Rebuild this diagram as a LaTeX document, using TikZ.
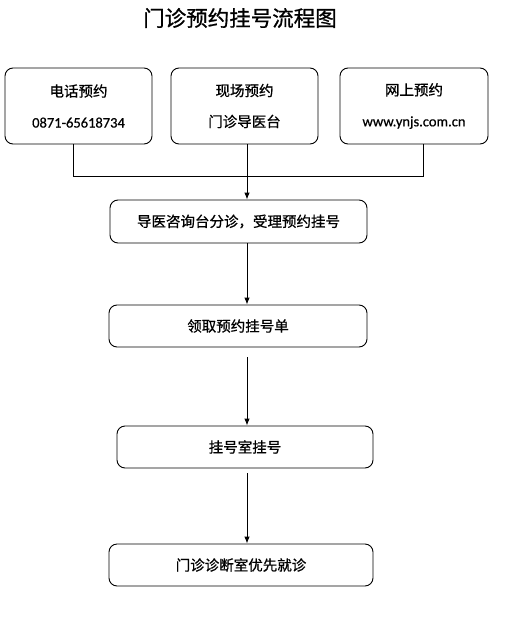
\documentclass[tikz,border=0pt]{standalone}
\usepackage{fontspec}
\setmainfont{Carlito}[RawFeature={embolden=0.6}]
\newfontfamily\cjk{Noto Sans CJK SC}[RawFeature={embolden=0.8}]
\usetikzlibrary{arrows.meta,positioning}

\begin{document}
\begin{tikzpicture}[x=1pt,y=-1pt,
    box/.style={rounded corners=8pt,draw=black,line width=0.9pt,fill=white,align=center,inner sep=0pt},
    src/.style={box,minimum width=147pt,minimum height=76pt,font=\fontsize{14.5}{31}\selectfont},
    stage/.style={box,minimum height=42pt,font=\cjk\fontsize{14.5}{17}\selectfont},
    link/.style={line width=0.9pt,black},
    arr/.style={link,-{Latex[length=7pt,width=5.5pt]}}
  ]
    \fill[white] (0,0) rectangle (504,623);
    \useasboundingbox (0,0) rectangle (504,623);
    \node[font=\cjk\fontsize{21.5}{24}\selectfont] (title) at (240,18) {门诊预约挂号流程图};
    % three ways to book
    \node[src] (tel) at (78.5,106) {{\cjk 电话预约}\\0871-65618734};
    \node[src] (site) at (244.5,106) {{\cjk 现场预约}\\{\cjk 门诊导医台}};
    \node[src,minimum width=148pt] (web) at (414,106) {{\cjk 网上预约}\\www.ynjs.com.cn};
    \node[stage,minimum width=257pt,minimum height=43pt] (guide) at (238.5,221.5) {导医咨询台分诊，受理预约挂号};
    \node[stage,minimum width=258pt] (slip) at (238,326) {领取预约挂号单};
    \node[stage,minimum width=256pt] (reg) at (245,447) {挂号室挂号};
    \node[stage,minimum width=264pt] (clinic) at (241,565) {门诊诊断室优先就诊};
    \coordinate (jl) at (73,176); \coordinate (jm) at (247,176); \coordinate (jr) at (423,176);
    \draw[link] (jl |- tel.south) -- (jl) -- (jr) -- (jr |- web.south);
    \draw[arr] (jm |- site.south) -- (jm |- guide.north);
    \draw[arr] (jm |- guide.south) -- (jm |- slip.north);
    \draw[arr,shorten <=10pt] (jm |- slip.south) -- (jm |- reg.north);
    \draw[arr,shorten <=5pt] (jm |- reg.south) -- (jm |- clinic.north);
  \end{tikzpicture}
\end{document}
